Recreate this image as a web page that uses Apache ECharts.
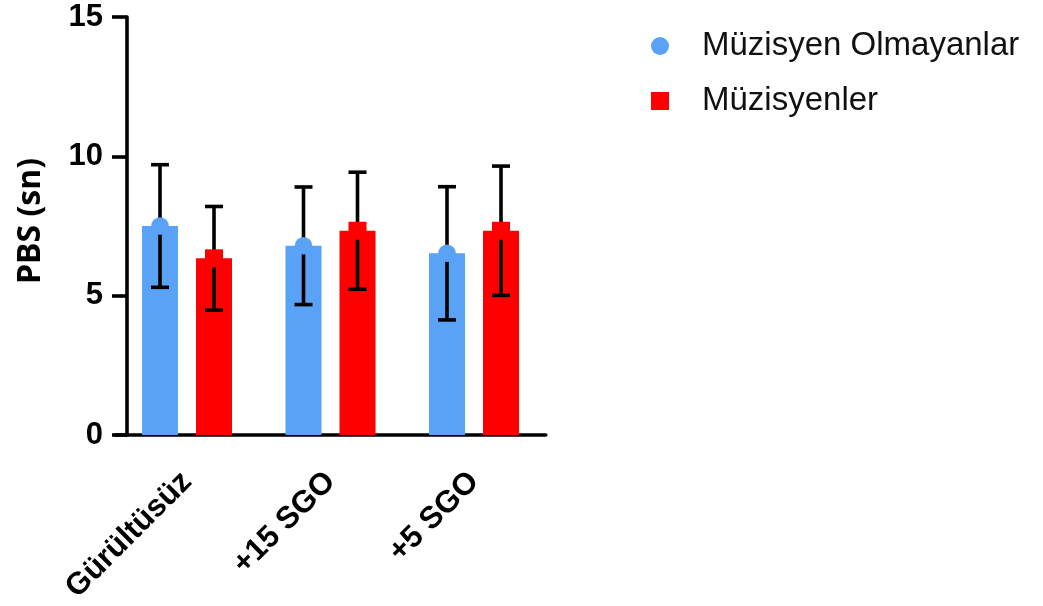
<!DOCTYPE html>
<html>
<head>
<meta charset="utf-8">
<script src="https://cdn.jsdelivr.net/npm/echarts@6/dist/echarts.min.js"></script>
<style>
  html, body { margin: 0; padding: 0; background: #fff; }
  #chart { width: 1043px; height: 606px; }
</style>
</head>
<body>
<div id="chart"></div>
<script>
// Conditions and group names
const categories = ['Gürültüsüz', '+15 SGO', '+5 SGO'];
const groupNames = ['Müzisyen Olmayanlar', 'Müzisyenler'];

// Mean PBS (sn) and standard deviations per condition
const nonMusicianMean = [7.50, 6.79, 6.52];
const nonMusicianSD   = [2.20, 2.11, 2.39];
const musicianMean    = [6.34, 7.33, 7.33];
const musicianSD      = [1.86, 2.10, 2.32];

// Y axis ticks
const yTicks = [0, 5, 10, 15];

const BLUE = '#5aa2f6';
const RED = '#ff0000';
const BAR_W = 36;
const BAR_GAP = 0.5;               // gap between the two bars, as a fraction of bar width
const HALF_STEP = BAR_W * (1 + BAR_GAP) / 2;  // distance from category centre to bar centre

const chart = echarts.init(document.getElementById('chart'));

// Error bar (mean ± SD) with the mean symbol drawn over it
function errorBarRenderer(means, sds, side, color, shape) {
  return function (params, api) {
    const i = params.dataIndex;
    const m = means[i], s = sds[i];
    const c = api.coord([i, m]);
    const x = c[0] + side * HALF_STEP;
    const yTop = api.coord([i, m + s])[1];
    const yBot = api.coord([i, m - s])[1];
    const capHalf = 9;
    const ls = { stroke: '#000', lineWidth: 3.6 };
    const children = [
      { type: 'line', shape: { x1: x, y1: yTop, x2: x, y2: yBot }, style: ls },
      { type: 'line', shape: { x1: x - capHalf, y1: yTop, x2: x + capHalf, y2: yTop }, style: ls },
      { type: 'line', shape: { x1: x - capHalf, y1: yBot, x2: x + capHalf, y2: yBot }, style: ls }
    ];
    if (shape === 'circle') {
      children.push({ type: 'circle', shape: { cx: x, cy: c[1], r: 8.8 }, style: { fill: color } });
    } else {
      children.push({ type: 'rect', shape: { x: x - 9, y: c[1] - 9, width: 18, height: 18 }, style: { fill: color } });
    }
    return { type: 'group', children: children };
  };
}

const option = {
  animation: false,
  backgroundColor: '#fff',
  grid: { left: 115.25, width: 430.5, top: 17, bottom: 171, containLabel: false },
  legend: {
    orient: 'vertical',
    left: 646,
    top: 23,
    itemWidth: 18,
    itemHeight: 18,
    itemGap: 19,
    selectedMode: false,
    textStyle: {
      fontFamily: 'Liberation Sans, Arial, sans-serif',
      fontSize: 33,
      color: '#111',
      lineHeight: 36,
      padding: [0, 0, 0, 28]
    },
    data: [
      { name: groupNames[0], icon: 'circle' },
      { name: groupNames[1], icon: 'rect' }
    ]
  },
  xAxis: {
    type: 'category',
    data: categories,
    axisLine: { lineStyle: { color: '#000', width: 3.6 } },
    axisTick: { alignWithLabel: true, length: 18, lineStyle: { color: '#000', width: 3.6 } },
    axisLabel: {
      rotate: 45,
      margin: 42,
      color: '#000',
      fontFamily: 'Liberation Sans, Arial, sans-serif',
      fontWeight: 'bold',
      fontSize: 31
    }
  },
  yAxis: {
    type: 'value',
    min: yTicks[0],
    max: yTicks[yTicks.length - 1],
    interval: yTicks[1] - yTicks[0],
    offset: -11.75,
    name: 'PBS (sn)',
    nameLocation: 'middle',
    nameRotate: 90,
    nameGap: 80,
    nameTextStyle: {
      fontFamily: 'Open Sans, sans-serif',
      fontWeight: 'bold',
      fontSize: 32,
      color: '#000',
      padding: [0, 0, 0, 10]
    },
    splitLine: { show: false },
    axisLine: { show: true, lineStyle: { color: '#000', width: 3.6 } },
    axisTick: { show: true, length: 15, lineStyle: { color: '#000', width: 3.6 } },
    axisLabel: {
      margin: 24,
      color: '#000',
      fontFamily: 'Liberation Sans, Arial, sans-serif',
      fontWeight: 'bold',
      fontSize: 31
    }
  },
  series: [
    {
      name: groupNames[0], type: 'bar', data: nonMusicianMean,
      barWidth: BAR_W, barGap: (BAR_GAP * 100) + '%',
      itemStyle: { color: BLUE }
    },
    {
      name: groupNames[1], type: 'bar', data: musicianMean,
      barWidth: BAR_W, barGap: (BAR_GAP * 100) + '%',
      itemStyle: { color: RED }
    },
    {
      name: groupNames[0], type: 'custom', z: 5,
      data: nonMusicianMean.map((v, i) => [i, v]),
      renderItem: errorBarRenderer(nonMusicianMean, nonMusicianSD, -1, BLUE, 'circle')
    },
    {
      name: groupNames[1], type: 'custom', z: 5,
      data: musicianMean.map((v, i) => [i, v]),
      renderItem: errorBarRenderer(musicianMean, musicianSD, 1, RED, 'rect')
    }
  ]
};

chart.setOption(option);
</script>
</body>
</html>
